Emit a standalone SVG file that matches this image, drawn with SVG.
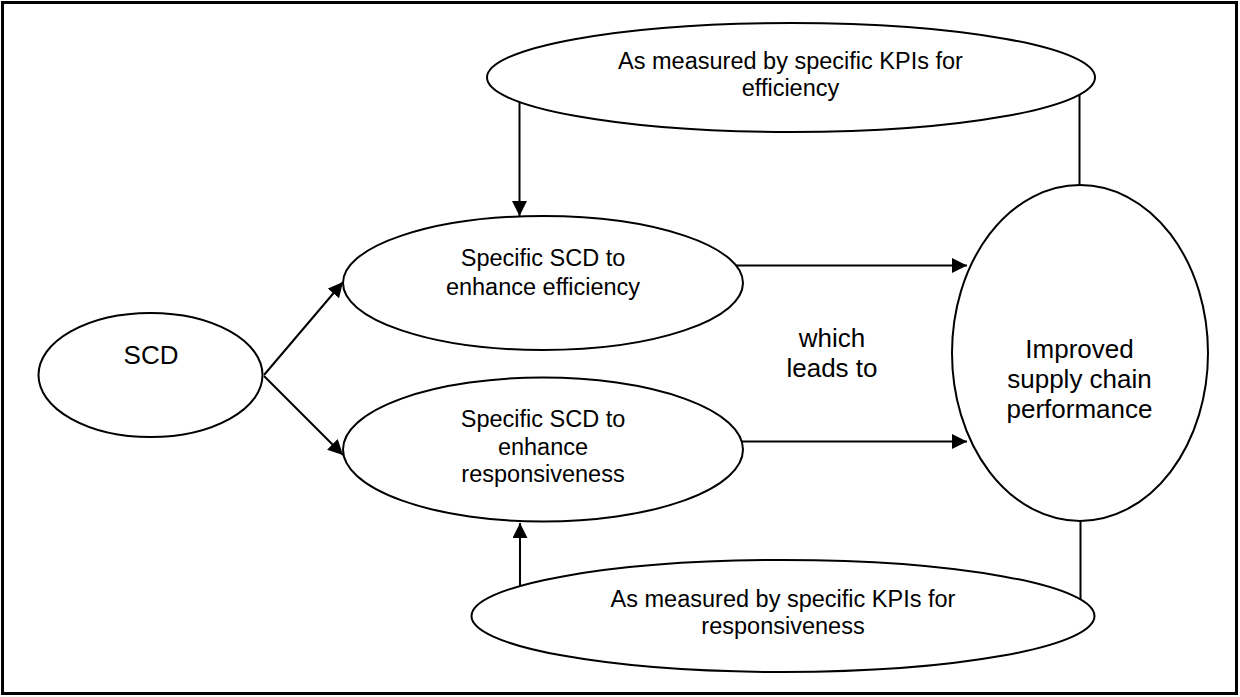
<svg xmlns="http://www.w3.org/2000/svg" width="1240" height="697" viewBox="0 0 1240 697">
  <style>
    .shape { fill: #ffffff; stroke: #000000; stroke-width: 2; }
    .link { fill: none; stroke: #000000; stroke-width: 2; }
    .arrow { marker-end: url(#head); }
    text { font-family: "Liberation Sans", Arial, Helvetica, sans-serif; fill: #000000; text-anchor: middle; }
    .sm { font-size: 23.5px; }
    .lg { font-size: 26px; }
  </style>
  <defs>
    <marker id="head" markerUnits="userSpaceOnUse" markerWidth="15" markerHeight="15" refX="15" refY="7.5" orient="auto">
      <path d="M0,0 L15,7.5 L0,15 Z" fill="#000000"/>
    </marker>
  </defs>

  <rect x="0" y="0" width="1240" height="697" fill="#ffffff"/>
  <rect x="2.5" y="2.5" width="1234" height="691" fill="none" stroke="#000000" stroke-width="3"/>

  <!-- connectors -->
  <g id="connectors">
    <line class="link arrow" x1="264" y1="375" x2="343" y2="282"/>
    <line class="link arrow" x1="264" y1="376" x2="343" y2="455"/>
    <line class="link arrow" x1="736" y1="265.5" x2="967" y2="265.5"/>
    <line class="link arrow" x1="742" y1="441.5" x2="967" y2="441.5"/>
    <line class="link arrow" x1="519.5" y1="102" x2="519.5" y2="216"/>
    <line class="link arrow" x1="520" y1="587" x2="520" y2="523"/>
    <line class="link" x1="1079.5" y1="95" x2="1079.5" y2="185"/>
    <line class="link" x1="1080.5" y1="521" x2="1080.5" y2="599"/>
  </g>

  <g id="kpi-efficiency">
    <ellipse class="shape" cx="791" cy="77.5" rx="304" ry="54.5"/>
    <text class="sm" x="790.5" y="69">As measured by specific KPIs for</text>
    <text class="sm" x="790.5" y="96">efficiency</text>
  </g>

  <g id="scd">
    <ellipse class="shape" cx="150.5" cy="375" rx="112" ry="62"/>
    <text class="lg" x="151" y="364">SCD</text>
  </g>

  <g id="scd-efficiency">
    <ellipse class="shape" cx="543" cy="283" rx="200" ry="67"/>
    <text class="sm" x="543" y="266">Specific SCD to</text>
    <text class="sm" x="543" y="295">enhance efficiency</text>
  </g>

  <g id="scd-responsiveness">
    <ellipse class="shape" cx="543" cy="449.5" rx="200" ry="72"/>
    <text class="sm" x="543" y="427">Specific SCD to</text>
    <text class="sm" x="543" y="455">enhance</text>
    <text class="sm" x="543" y="482">responsiveness</text>
  </g>

  <g id="leads-to">
    <text class="lg" x="832" y="347">which</text>
    <text class="lg" x="832" y="377">leads to</text>
  </g>

  <g id="performance">
    <ellipse class="shape" cx="1080" cy="353" rx="128" ry="168"/>
    <text class="lg" x="1079.5" y="358">Improved</text>
    <text class="lg" x="1079.5" y="388">supply chain</text>
    <text class="lg" x="1079.5" y="418">performance</text>
  </g>

  <g id="kpi-responsiveness">
    <ellipse class="shape" cx="783" cy="616" rx="311.5" ry="56"/>
    <text class="sm" x="783" y="607">As measured by specific KPIs for</text>
    <text class="sm" x="783" y="634">responsiveness</text>
  </g>
</svg>
